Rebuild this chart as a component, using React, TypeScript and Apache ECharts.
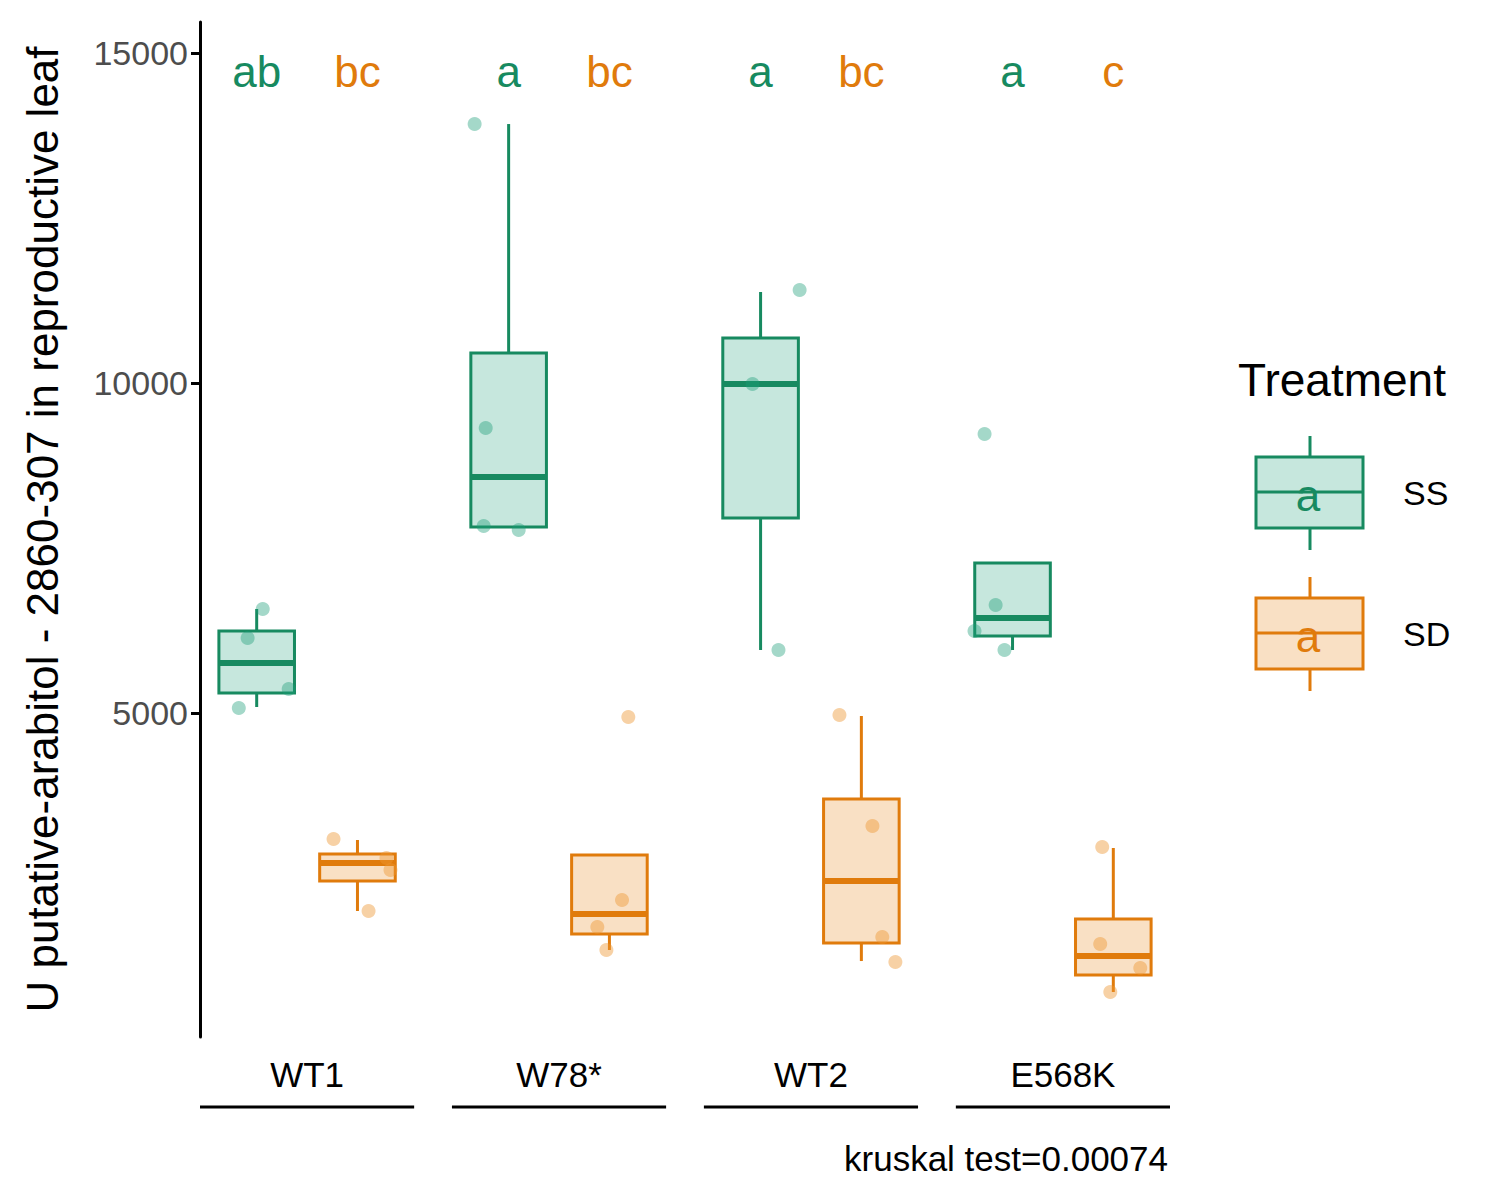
import React, { useEffect, useRef } from 'react';
import * as echarts from 'echarts';

const groups = ['WT1', 'W78*', 'WT2', 'E568K'];
const treatments = ['SS', 'SD'];
const lineColors = ['#178A60', '#E07B0C'];
const fillColors = ['rgba(27,158,119,0.25)', 'rgba(230,130,20,0.25)'];
const pointColors = ['rgba(27,158,119,0.5)', 'rgba(236,150,50,0.55)'];

// [lowWhisker, q1, median, q3, highWhisker] per group, per treatment
const boxSS = [
  [5091, 5303, 5758, 6242, 6576],
  [7818, 7818, 8576, 10455, 13924],
  [5955, 7955, 9985, 10682, 11379],
  [5955, 6167, 6439, 7273, 7273],
];
const boxSD = [
  [2000, 2455, 2727, 2864, 3076],
  [1409, 1652, 1955, 2848, 2848],
  [1242, 1515, 2455, 3697, 4955],
  [773, 1030, 1318, 1879, 2955],
];
// raw points: [jitter, value]
const pointsSS = [
  [[-0.036, 6136], [0.024, 6576], [0.127, 5364], [-0.071, 5076]],
  [[-0.135, 13924], [-0.091, 9318], [-0.099, 7833], [0.04, 7773]],
  [[-0.032, 9985], [0.155, 11409], [0.071, 5955]],
  [[-0.111, 9227], [-0.067, 6636], [-0.151, 6242], [-0.032, 5955]],
];
const pointsSD = [
  [[-0.095, 3091], [0.115, 2803], [0.131, 2621], [0.044, 2000]],
  [[0.075, 4939], [0.05, 2167], [-0.048, 1758], [-0.012, 1409]],
  [[-0.087, 4970], [0.044, 3288], [0.083, 1606], [0.135, 1227]],
  [[-0.044, 2970], [-0.052, 1500], [0.107, 1136], [-0.012, 773]],
];
const lettersSS = ['ab', 'a', 'a', 'a'];
const lettersSD = ['bc', 'bc', 'bc', 'c'];
const yTicks = [5000, 10000, 15000];

const OFF = 0.2;
const HALF = 0.15;
const Y_MIN = 91;
const Y_MAX = 15470;
const LETTER_Y = 14720;

const App: React.FC = () => {
  const ref = useRef<HTMLDivElement>(null);

  useEffect(() => {
    document.body.style.margin = '0';
    if (!ref.current) return;
    const chart = echarts.init(ref.current, undefined, { renderer: 'svg' });
    const font = 'Liberation Sans, Arial, sans-serif';

    const boxSeries = [boxSS, boxSD].map((boxes, t) => ({
      type: 'custom',
      data: boxes.map((b, i) => [i + 1 + (t === 0 ? -OFF : OFF), ...b]),
      z: 2,
      renderItem: (params: any, api: any) => {
        const x = api.value(0);
        const [lo, q1, md, q3, hi] = [1, 2, 3, 4, 5].map((k) => api.value(k));
        const pL = api.coord([x - HALF, q3]);
        const pR = api.coord([x + HALF, q1]);
        const c = api.coord([x, md]);
        const pHi = api.coord([x, hi]);
        const pLo = api.coord([x, lo]);
        const st = { stroke: lineColors[t], lineWidth: 3 };
        return {
          type: 'group',
          children: [
            { type: 'line', shape: { x1: c[0], y1: pHi[1], x2: c[0], y2: pL[1] }, style: st },
            { type: 'line', shape: { x1: c[0], y1: pR[1], x2: c[0], y2: pLo[1] }, style: st },
            {
              type: 'rect',
              shape: { x: pL[0], y: pL[1], width: pR[0] - pL[0], height: pR[1] - pL[1] },
              style: { fill: fillColors[t], stroke: lineColors[t], lineWidth: 3 },
            },
            { type: 'line', shape: { x1: pL[0], y1: c[1], x2: pR[0], y2: c[1] }, style: { stroke: lineColors[t], lineWidth: 6 } },
          ],
        };
      },
    }));

    const pointSeries = [pointsSS, pointsSD].map((pts, t) => ({
      type: 'scatter',
      symbolSize: 14,
      z: 3,
      itemStyle: { color: pointColors[t] },
      data: pts.flatMap((g, i) => g.map(([j, v]) => [i + 1 + (t === 0 ? -OFF : OFF) + j, v])),
    }));

    const letterSeries = [lettersSS, lettersSD].map((ls, t) => ({
      type: 'custom',
      silent: true,
      data: ls.map((_, i) => [i + 1 + (t === 0 ? -OFF : OFF), LETTER_Y, i]),
      renderItem: (params: any, api: any) => {
        const p = api.coord([api.value(0), api.value(1)]);
        return {
          type: 'text',
          x: p[0],
          y: p[1],
          style: {
            text: ls[api.value(2)],
            fill: lineColors[t],
            fontSize: 44,
            fontFamily: font,
            align: 'center',
            verticalAlign: 'middle',
          },
        };
      },
    }));

    const underline = {
      type: 'custom',
      clip: false,
      silent: true,
      data: groups.map((_, i) => [i + 1]),
      renderItem: (params: any, api: any) => {
        const x = api.value(0);
        const a = api.coord([x - 0.425, Y_MIN]);
        const b = api.coord([x + 0.425, Y_MIN]);
        return {
          type: 'line',
          shape: { x1: a[0], y1: a[1] + 70, x2: b[0], y2: a[1] + 70 },
          style: { stroke: '#000', lineWidth: 3 },
        };
      },
    };

    const legendItems: any[] = [];
    [0, 1].forEach((t) => {
      const cy = 493 + t * 141;
      legendItems.push(
        { type: 'line', shape: { x1: 1310, y1: cy - 57, x2: 1310, y2: cy + 57 }, style: { stroke: lineColors[t], lineWidth: 3 } },
        { type: 'rect', shape: { x: 1256, y: cy - 36, width: 107, height: 71 }, style: { fill: '#fff', stroke: 'none' } },
        { type: 'rect', shape: { x: 1256, y: cy - 36, width: 107, height: 71 }, style: { fill: fillColors[t], stroke: lineColors[t], lineWidth: 3 } },
        { type: 'line', shape: { x1: 1256, y1: cy - 1, x2: 1363, y2: cy - 1 }, style: { stroke: lineColors[t], lineWidth: 3 } },
        { type: 'text', x: 1308, y: cy + 2, style: { text: 'a', fill: lineColors[t], fontSize: 44, fontFamily: font, align: 'center', verticalAlign: 'middle' } },
        { type: 'text', x: 1403, y: cy, style: { text: treatments[t], fill: '#000', fontSize: 34, fontFamily: font, verticalAlign: 'middle' } }
      );
    });

    chart.setOption({
      animation: false,
      grid: { left: 200, right: 330, top: 22, bottom: 163 },
      xAxis: {
        type: 'value',
        min: 0.575,
        max: 4.425,
        splitLine: { show: false },
        axisLine: { show: false },
        axisTick: { show: false },
        axisLabel: {
          customValues: [1, 2, 3, 4],
          formatter: (v: number) => groups[Math.round(v) - 1] ?? '',
          fontSize: 35,
          color: '#000',
          margin: 20,
          fontFamily: font,
        },
      },
      yAxis: {
        type: 'value',
        min: Y_MIN,
        max: Y_MAX,
        name: 'U putative-arabitol - 2860-307 in reproductive leaf',
        nameLocation: 'middle',
        nameGap: 136,
        nameTextStyle: { fontSize: 44, color: '#000', fontFamily: font },
        splitLine: { show: false },
        axisLine: { show: true, lineStyle: { color: '#000', width: 3 } },
        axisTick: { show: true, customValues: yTicks, length: 9, lineStyle: { color: '#000', width: 3 } },
        axisLabel: {
          customValues: yTicks,
          formatter: (v: number) => String(v),
          fontSize: 34,
          color: '#4d4d4d',
          margin: 12,
          fontFamily: font,
        },
      },
      graphic: [
        { type: 'text', x: 1238, y: 380, style: { text: 'Treatment', fill: '#000', fontSize: 46, fontFamily: font, verticalAlign: 'middle' } },
        ...legendItems,
        { type: 'text', x: 1168, y: 1158, style: { text: 'kruskal test=0.00074', fill: '#000', fontSize: 35, fontFamily: font, align: 'right', verticalAlign: 'middle' } },
      ],
      series: [...boxSeries, ...pointSeries, ...letterSeries, underline],
    });

    return () => chart.dispose();
  }, []);

  return <div ref={ref} style={{ width: 1500, height: 1200 }} />;
};

export default App;
